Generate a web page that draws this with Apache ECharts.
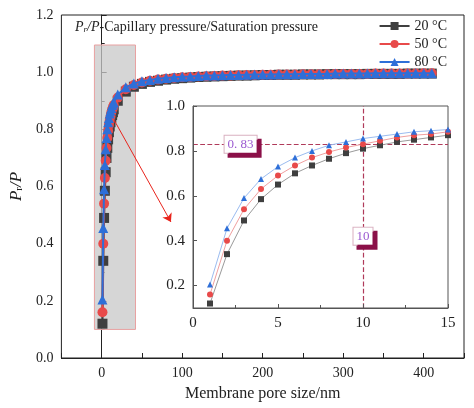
<!DOCTYPE html>
<html><head><meta charset="utf-8">
<script src="https://cdn.jsdelivr.net/npm/echarts@6/dist/echarts.min.js"></script>
<style>html,body{margin:0;padding:0;background:#fff}#c{width:474px;height:408px}</style>
</head><body><div id="c"></div>
<script>
const names = ['20 °C','50 °C','80 °C'];
const colors = ['#3f3f3f','#e84a4a','#2e6fd8'];
const lineColors = ['#9a9a9a','#f0a0a0','#9bbcf0'];
const symbols = ['rect','circle','triangle'];
const xSmall = [1,2,3,4,5,6,7,8,9,10,11,12,13,14,15];
const ySmall20 = [0.12,0.34,0.49,0.585,0.65,0.70,0.735,0.765,0.79,0.81,0.825,0.84,0.85,0.86,0.87];
const ySmall50 = [0.16,0.40,0.54,0.63,0.69,0.735,0.77,0.795,0.815,0.83,0.845,0.86,0.87,0.875,0.885];
const ySmall80 = [0.205,0.455,0.59,0.675,0.73,0.77,0.80,0.825,0.84,0.855,0.865,0.875,0.885,0.89,0.895];
const xLarge = [20,30,40,50,60,70,80,90,100,110,120,130,140,150,160,170,180,190,200,210,220,230,240,250,260,270,280,290,300,310,320,330,340,350,360,370,380,390,400,410];
const yLarge20 = [.900,.932,.949,.959,.966,.970,.974,.977,.979,.981,.983,.984,.985,.986,.987,.988,.988,.989,.990,.990,.991,.991,.991,.992,.992,.992,.993,.993,.993,.993,.993,.994,.994,.994,.994,.994,.995,.995,.995,.995];
const yLarge50 = [.911,.940,.955,.964,.970,.974,.977,.980,.982,.983,.985,.986,.987,.988,.988,.989,.990,.990,.991,.991,.992,.992,.992,.993,.993,.993,.993,.994,.994,.994,.994,.994,.995,.995,.995,.995,.995,.995,.996,.996];
const yLarge80 = [.922,.947,.960,.968,.973,.977,.980,.982,.984,.985,.987,.988,.988,.989,.990,.990,.991,.992,.992,.992,.993,.993,.993,.994,.994,.994,.994,.995,.995,.995,.995,.995,.996,.996,.996,.996,.996,.996,.996,.996];
const smallSets = [ySmall20, ySmall50, ySmall80];
const largeSets = [yLarge20, yLarge50, yLarge80];
const hLine = 0.83, vLine = 10;

const F = 'Liberation Serif';
const chart = echarts.init(document.getElementById('c'));
const series = [];
series.push({type:'line', xAxisIndex:0, yAxisIndex:0, data:[], z:1,
  markArea:{silent:true, itemStyle:{color:'rgba(200,200,200,0.75)', borderColor:'#e8a0a0', borderWidth:1},
    data:[[{coord:[-9,0.1]},{coord:[42,1.095]}]]},
  markLine:{silent:true, symbol:['none','arrow'], symbolSize:8, lineStyle:{color:'#e8241c', type:'solid', width:1},
    label:{show:false}, data:[[{coord:[16,0.83]},{coord:[86,0.476]}]]}
});
for (let i=0;i<3;i++){
  const d = xSmall.map((x,j)=>[x, smallSets[i][j]]).concat(xLarge.map((x,j)=>[x, largeSets[i][j]]));
  series.push({name:names[i], type:'line', xAxisIndex:0, yAxisIndex:0, data:d, symbol:symbols[i], symbolSize:10,
    showAllSymbol:true, z:3+i, itemStyle:{color:colors[i]}, lineStyle:{color:colors[i], width:2}});
}
for (let i=0;i<3;i++){
  const s = {name:names[i], type:'line', xAxisIndex:1, yAxisIndex:1, data:xSmall.map((x,j)=>[x, smallSets[i][j]]),
    symbol:symbols[i], symbolSize:6, z:10, itemStyle:{color:colors[i]}, lineStyle:{color:lineColors[i], width:1}};
  if (i===0){
    const lab = {show:true, color:'#9b59d0', fontFamily:F, fontSize:13, backgroundColor:'#fff', borderColor:'#d9b0c0', borderWidth:1,
      padding:[2,3], shadowColor:'#8b1048', shadowOffsetX:4, shadowOffsetY:4, shadowBlur:0};
    s.markLine = {silent:true, symbol:'none', lineStyle:{color:'#b03a5a', type:'dashed', width:1.2}, label:{show:false},
      data:[{yAxis:hLine},{xAxis:vLine}]};
    s.markPoint = {symbol:'rect', symbolSize:0, silent:true, data:[
      {coord:[2.8,hLine], label:Object.assign({formatter:'0. 83'},lab)},
      {coord:[10,0.42], label:Object.assign({formatter:'10'},lab)}]};
  }
  series.push(s);
}
chart.setOption({
  animation:false,
  textStyle:{fontFamily:F},
  legend:{orient:'vertical', right:22, top:14, itemGap:4, itemWidth:30, itemHeight:10,
    textStyle:{fontFamily:F, fontSize:14, color:'#222'}, data:names},
  graphic:[{type:'text', left:75, top:20, z:20, style:{rich:{i:{fontStyle:'italic',fontSize:14,fontFamily:F}, s:{fontStyle:'italic',fontSize:9,fontFamily:F,verticalAlign:'bottom'}, n:{fontSize:14,fontFamily:F}},
    text:'{i|P}{s|r}{i|/P}{n|-Capillary pressure/Saturation pressure}', fill:'#222'}}],
  grid:[{left:60, right:10, top:15, bottom:50, show:true, borderColor:'#222', borderWidth:1},
        {left:193, right:26, top:106, bottom:100, show:true, backgroundColor:'#fff', borderColor:'#555', borderWidth:1, z:5}],
  xAxis:[{type:'value', gridIndex:0, min:-50, max:450, interval:50,
    axisLine:{lineStyle:{color:'#222'}}, axisTick:{inside:true, length:5, lineStyle:{color:'#222'}}, splitLine:{show:false},
    axisLabel:{color:'#222', fontSize:14, fontFamily:F, formatter:v=>(v%100===0?v:'')},
    name:'Membrane pore size/nm', nameLocation:'middle', nameGap:28, nameTextStyle:{fontSize:16, fontFamily:F, color:'#222'}},
    {type:'value', gridIndex:1, min:0, max:15, interval:5, z:6,
    axisLine:{lineStyle:{color:'#555'}}, axisTick:{inside:true, length:4, lineStyle:{color:'#555'}}, minorTick:{show:true, splitNumber:2, length:3},
    splitLine:{show:false}, axisLabel:{color:'#222', fontSize:15, fontFamily:F}}],
  yAxis:[{type:'value', gridIndex:0, min:0, max:1.2, interval:0.2,
    axisLine:{show:true, lineStyle:{color:'#222'}}, axisTick:{inside:true, length:5, lineStyle:{color:'#222'}}, minorTick:{show:true, splitNumber:2, length:3, lineStyle:{color:'#222'}},
    splitLine:{show:false}, axisLabel:{color:'#222', fontSize:14, fontFamily:F, formatter:v=>v.toFixed(1)},
    name:'{i|P}{s|r}{i|/P}', nameLocation:'middle', nameGap:34,
    nameTextStyle:{rich:{i:{fontStyle:'italic',fontSize:17,fontFamily:F,color:'#222'}, s:{fontSize:11,fontFamily:F,color:'#222',verticalAlign:'bottom'}}}},
    {type:'value', gridIndex:1, min:0.1, max:1.0, z:6,
    axisLine:{show:true, lineStyle:{color:'#555'}},
    axisTick:{inside:true, length:4, customValues:[0.2,0.4,0.6,0.8,1.0], lineStyle:{color:'#555'}},
    splitLine:{show:false},
    axisLabel:{color:'#222', fontSize:15, fontFamily:F, customValues:[0.2,0.4,0.6,0.8,1.0], formatter:v=>v.toFixed(1)}}],
  series:series
});
</script></body></html>
